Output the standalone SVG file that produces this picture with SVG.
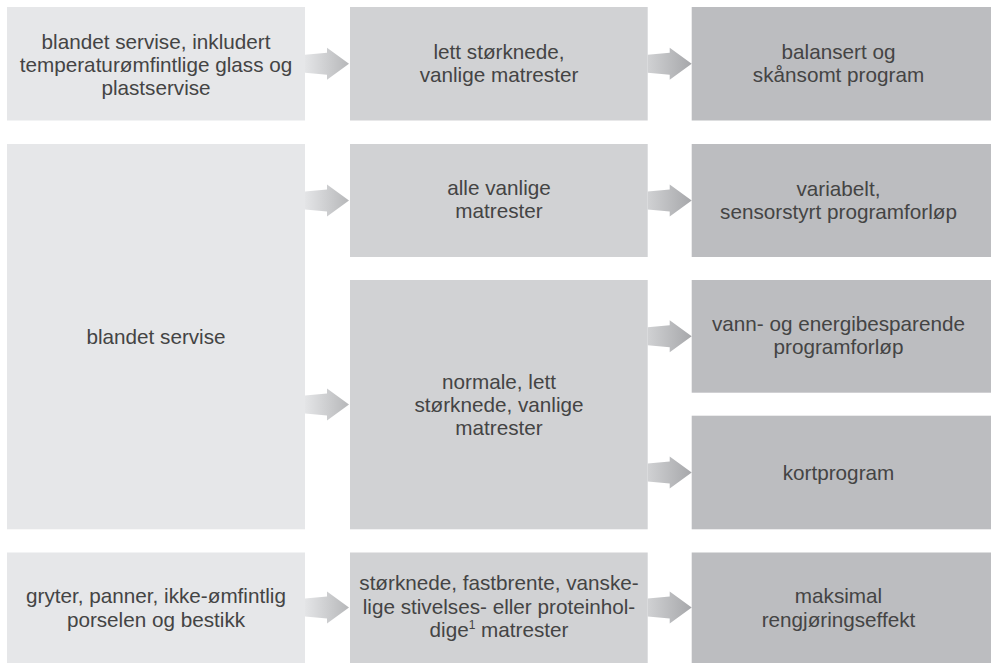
<svg xmlns="http://www.w3.org/2000/svg" width="991" height="663" viewBox="0 0 991 663">
<defs>
<linearGradient id="g1" x1="0" y1="0" x2="1" y2="0">
<stop offset="0" stop-color="#e4e5e7"/>
<stop offset="1" stop-color="#b6b7b9"/>
</linearGradient>
<linearGradient id="g2" x1="0" y1="0" x2="1" y2="0">
<stop offset="0" stop-color="#d0d1d3"/>
<stop offset="1" stop-color="#a6a7aa"/>
</linearGradient>
<path id="arr" d="M0,-9 L22,-11 L22,-16 L44,0 L22,16 L22,11 L0,9 Z"/>
</defs>
<style>
.c1{fill:#e6e7e9}
.c2{fill:#d1d2d4}
.c3{fill:#bcbdc0}
text{font-family:"Liberation Sans",Arial,Helvetica,sans-serif;font-size:20.7px;fill:#444444;text-anchor:middle}
.sup{font-size:12px}
</style>
<rect width="991" height="663" fill="#ffffff"/>
<g id="n-a1"><rect class="c1" x="7" y="7" width="298" height="113.5"/>
<text x="156" y="48.5">blandet servise, inkludert</text>
<text x="156" y="71.8">temperaturømfintlige glass og</text>
<text x="156" y="95">plastservise</text></g>
<g id="n-a2"><rect class="c2" x="350" y="7" width="297.7" height="113.5"/>
<text x="499" y="58.5">lett størknede,</text>
<text x="499" y="81.5">vanlige matrester</text></g>
<g id="n-a3"><rect class="c3" x="691.7" y="7" width="299.3" height="113.5"/>
<text x="838.5" y="58.5">balansert og</text>
<text x="838.5" y="81.5">skånsomt program</text></g>
<g id="n-b1"><rect class="c1" x="7" y="144" width="298" height="385.3"/>
<text x="156" y="343.5">blandet servise</text></g>
<g id="n-b2"><rect class="c2" x="350" y="144" width="297.7" height="113"/>
<text x="499" y="195">alle vanlige</text>
<text x="499" y="218">matrester</text></g>
<g id="n-b3"><rect class="c3" x="691.7" y="144" width="299.3" height="113"/>
<text x="838.5" y="195.5">variabelt,</text>
<text x="838.5" y="218.5">sensorstyrt programforløp</text></g>
<g id="n-c2"><rect class="c2" x="350" y="280" width="297.7" height="249.3"/>
<text x="499" y="388.5">normale, lett</text>
<text x="499" y="411.5">størknede, vanlige</text>
<text x="499" y="434.5">matrester</text></g>
<g id="n-c3"><rect class="c3" x="691.7" y="280" width="299.3" height="112.7"/>
<text x="838.5" y="331">vann- og energibesparende</text>
<text x="838.5" y="354">programforløp</text></g>
<g id="n-d3"><rect class="c3" x="691.7" y="415.7" width="299.3" height="113.6"/>
<text x="838.5" y="480">kortprogram</text></g>
<g id="n-e1"><rect class="c1" x="7" y="552.5" width="298" height="110.5"/>
<text x="156" y="603">gryter, panner, ikke-ømfintlig</text>
<text x="156" y="627">porselen og bestikk</text></g>
<g id="n-e2"><rect class="c2" x="350" y="552.5" width="297.7" height="110.5"/>
<text x="499" y="590">størknede, fastbrente, vanske-</text>
<text x="499" y="613.5">lige stivelses- eller proteinhol-</text>
<text x="499" y="637">dige<tspan class="sup" dy="-8">1</tspan><tspan dy="8"> matrester</tspan></text></g>
<g id="n-e3"><rect class="c3" x="691.7" y="552.5" width="299.3" height="110.5"/>
<text x="838.5" y="603">maksimal</text>
<text x="838.5" y="627">rengjøringseffekt</text></g>
<g id="connectors">
<use href="#arr" x="305" y="63.8" fill="url(#g1)"/>
<use href="#arr" x="647.7" y="63.8" fill="url(#g2)"/>
<use href="#arr" x="305" y="200.5" fill="url(#g1)"/>
<use href="#arr" x="647.7" y="200.5" fill="url(#g2)"/>
<use href="#arr" x="305" y="404.5" fill="url(#g1)"/>
<use href="#arr" x="647.7" y="336.3" fill="url(#g2)"/>
<use href="#arr" x="647.7" y="472.5" fill="url(#g2)"/>
<use href="#arr" x="305" y="607.5" fill="url(#g1)"/>
<use href="#arr" x="647.7" y="607.5" fill="url(#g2)"/>
</g>
</svg>
